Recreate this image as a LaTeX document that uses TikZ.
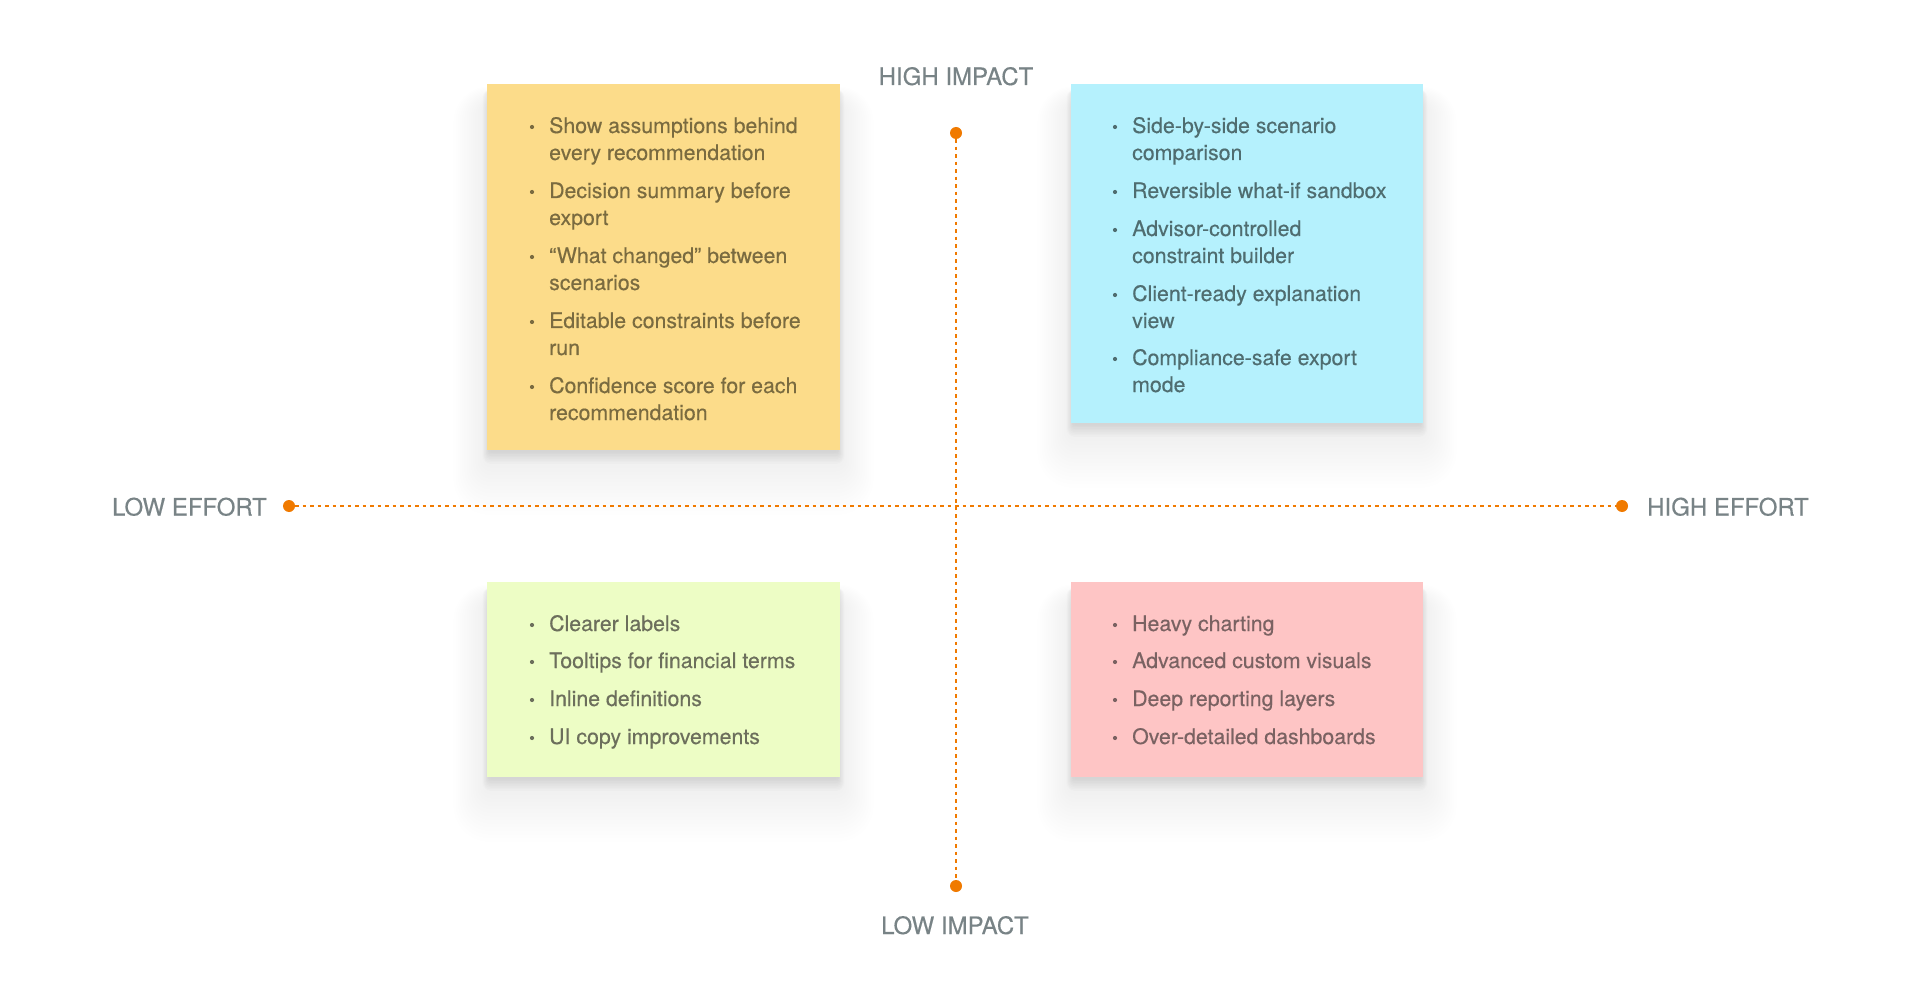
\documentclass[tikz,border=0pt]{standalone}
\usepackage{fontspec}
\setmainfont{TeX Gyre Heros}
\newfontfamily\medfont[FakeBold=0.35]{TeX Gyre Heros}
\definecolor{orng}{HTML}{F07A00}
\definecolor{lblgray}{HTML}{788386}
\definecolor{ybox}{HTML}{FCDC8A}
\definecolor{cbox}{HTML}{B5F1FD}
\definecolor{gbox}{HTML}{EDFDC5}
\definecolor{pbox}{HTML}{FEC5C5}
\definecolor{ytxt}{HTML}{7A6B40}
\definecolor{ctxt}{HTML}{4F6D70}
\definecolor{gtxt}{HTML}{6C6F5C}
\definecolor{ptxt}{HTML}{7A6262}
\newcommand\mkline[4]{\node[itemtxt, anchor=base west] (#1) at (#2,#3) {#4};}
\newcommand\mkbul[3]{\node[bul] (#1) at (#2,#3) {};}
\newcommand\softshadow[4]{%
  % broad soft shadow
  \foreach \k in {1,...,18}{%
    \fill[black, opacity=0.0045, rounded corners=2*\k pt]
      ({#1-2.2*\k+6},{#2-1.2*\k+24}) rectangle ({#3+2.2*\k-6},{#4+3.6*\k});
  }
  % tight contact shadow
  \foreach \k in {1,...,8}{%
    \fill[black, opacity=0.010, rounded corners=\k pt]
      ({#1-0.8*\k+2},{#2-0.3*\k+8}) rectangle ({#3+0.8*\k-2},{#4+1.6*\k+1});
  }}
\begin{document}
\begin{tikzpicture}[x=1pt,y=-1pt,
  stickybox/.style={draw=none, inner sep=0pt, anchor=north west},
  itemtxt/.style={inner sep=0pt, font=\medfont\fontsize{21.3}{26}\selectfont},
  bul/.style={circle, inner sep=0pt, minimum size=4.2pt, fill=.},
  dotnode/.style={circle, fill=orng, inner sep=0pt, minimum size=12pt},
  axisline/.style={draw=orng, line width=2.2pt, dash pattern=on 3.5pt off 4pt},
  axlabel/.style={inner sep=0pt, text=lblgray, font=\medfont\fontsize{24}{29}\selectfont}]
\useasboundingbox[fill=white] (0,0) rectangle (1920,1000);

% shadows
\softshadow{487}{84}{840}{450}
\softshadow{1071}{84}{1423}{423}
\softshadow{487}{582}{840}{777}
\softshadow{1071}{582}{1423}{777}

% boxes
\node[stickybox, fill=ybox, minimum width=353pt, minimum height=366pt] (q1) at (487,84) {};
\node[stickybox, fill=cbox, minimum width=352pt, minimum height=339pt] (q2) at (1071,84) {};
\node[stickybox, fill=gbox, minimum width=353pt, minimum height=195pt] (q3) at (487,582) {};
\node[stickybox, fill=pbox, minimum width=352pt, minimum height=195pt] (q4) at (1071,582) {};

% axes
\node[dotnode] (L) at (289,506) {};
\node[dotnode] (R) at (1622,506) {};
\node[dotnode] (T) at (956,133) {};
\node[dotnode] (B) at (956,886) {};
\draw[axisline] (L) -- (R);
\draw[axisline] (T) -- (B);

\node[axlabel, anchor=base east] (lowe) at (267,515.5) {LOW EFFORT};
\node[axlabel, anchor=base west] (highe) at (1647,515.5) {HIGH EFFORT};
\node[axlabel, anchor=base] (highi) at (956,85) {HIGH IMPACT};
\node[axlabel, anchor=base] (lowi) at (955,934) {LOW IMPACT};

% yellow
\begin{scope}[every node/.append style={text=ytxt, color=ytxt}]
\mkbul{yb1}{532}{127}\mkline{y1a}{549}{133}{Show assumptions behind}\mkline{y1b}{549}{160}{every recommendation}
\mkbul{yb2}{532}{192}\mkline{y2a}{549}{198}{Decision summary before}\mkline{y2b}{549}{225}{export}
\mkbul{yb3}{532}{257}\mkline{y3a}{549}{263}{“What changed” between}\mkline{y3b}{549}{290}{scenarios}
\mkbul{yb4}{532}{322}\mkline{y4a}{549}{328}{Editable constraints before}\mkline{y4b}{549}{355}{run}
\mkbul{yb5}{532}{387}\mkline{y5a}{549}{393}{Confidence score for each}\mkline{y5b}{549}{420}{recommendation}
\end{scope}

% cyan
\begin{scope}[every node/.append style={text=ctxt, color=ctxt}]
\mkbul{cb1}{1115}{127}\mkline{c1a}{1132}{133}{Side-by-side scenario}\mkline{c1b}{1132}{160}{comparison}
\mkbul{cb2}{1115}{192}\mkline{c2a}{1132}{198}{Reversible what-if sandbox}
\mkbul{cb3}{1115}{230}\mkline{c3a}{1132}{236}{Advisor-controlled}\mkline{c3b}{1132}{263}{constraint builder}
\mkbul{cb4}{1115}{295}\mkline{c4a}{1132}{301}{Client-ready explanation}\mkline{c4b}{1132}{328}{view}
\mkbul{cb5}{1115}{359}\mkline{c5a}{1132}{365}{Compliance-safe export}\mkline{c5b}{1132}{392}{mode}
\end{scope}

% green
\begin{scope}[every node/.append style={text=gtxt, color=gtxt}]
\mkbul{gb1}{532}{625}\mkline{g1}{549}{631}{Clearer labels}
\mkbul{gb2}{532}{662}\mkline{g2}{549}{668}{Tooltips for financial terms}
\mkbul{gb3}{532}{700}\mkline{g3}{549}{706}{Inline definitions}
\mkbul{gb4}{532}{738}\mkline{g4}{549}{744}{UI copy improvements}
\end{scope}

% pink
\begin{scope}[every node/.append style={text=ptxt, color=ptxt}]
\mkbul{pb1}{1115}{625}\mkline{p1}{1132}{631}{Heavy charting}
\mkbul{pb2}{1115}{662}\mkline{p2}{1132}{668}{Advanced custom visuals}
\mkbul{pb3}{1115}{700}\mkline{p3}{1132}{706}{Deep reporting layers}
\mkbul{pb4}{1115}{738}\mkline{p4}{1132}{744}{Over-detailed dashboards}
\end{scope}
\end{tikzpicture}
\end{document}
